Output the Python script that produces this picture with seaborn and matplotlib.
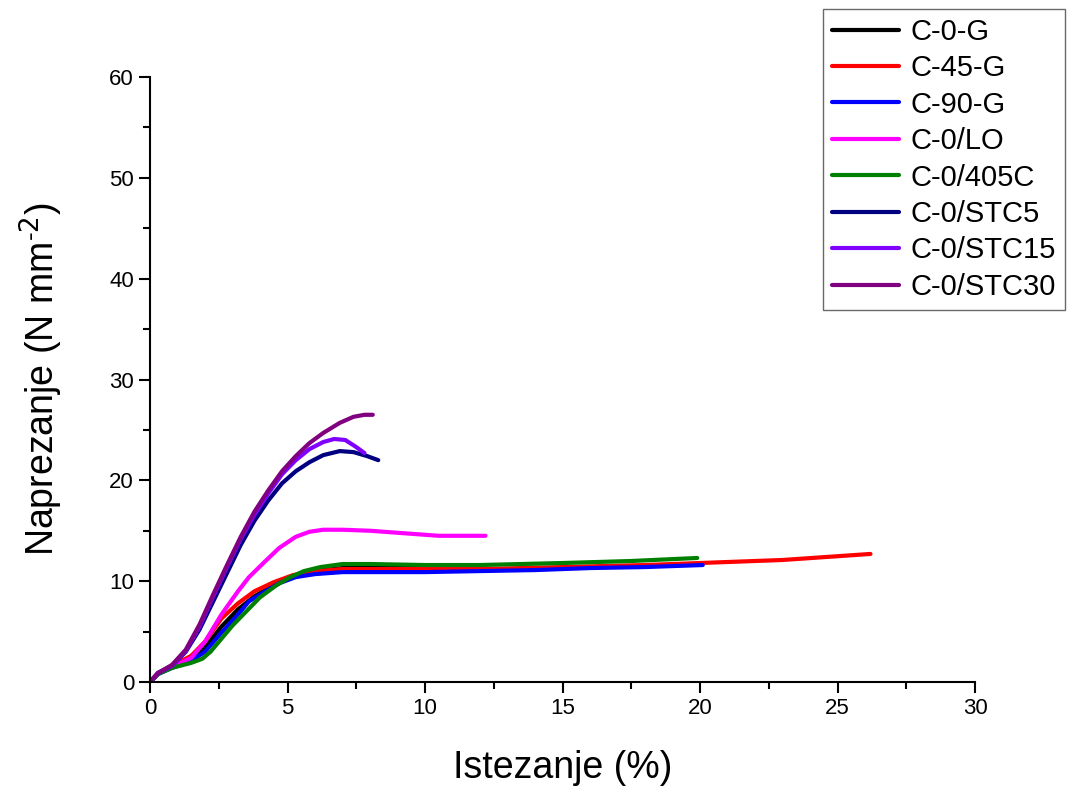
import matplotlib
matplotlib.use("Agg")
import matplotlib.pyplot as plt
from matplotlib.ticker import MultipleLocator
import seaborn as sns

# strain (%) / stress (N mm^-2) curves
c0g_x = [0, 0.3, 0.8, 1.5, 2.0, 2.6, 3.2, 3.8, 4.5, 5.2, 6.0, 7.0, 8.5, 10.0, 12.1]
c0g_y = [0, 0.9, 1.5, 2.3, 3.4, 5.5, 7.2, 8.5, 9.6, 10.4, 11.0, 11.3, 11.4, 11.4, 11.4]

c45g_x = [0, 0.3, 0.8, 1.5, 2.0, 2.6, 3.2, 3.8, 4.5, 5.2, 6.0, 7.0, 8.5, 10, 12, 15, 18, 20, 23, 26.2]
c45g_y = [0, 0.9, 1.6, 2.6, 4.0, 6.3, 7.8, 9.0, 9.9, 10.6, 11.0, 11.2, 11.2, 11.2, 11.2, 11.4, 11.6, 11.8, 12.1, 12.7]

c90g_x = [0, 0.3, 0.8, 1.5, 2.0, 2.6, 3.2, 3.6, 4.2, 4.7, 5.3, 6.0, 7.0, 8.5, 10, 12, 14, 16, 18, 20.1]
c90g_y = [0, 0.8, 1.4, 2.1, 3.0, 4.9, 6.7, 8.0, 9.0, 9.8, 10.4, 10.7, 10.9, 10.9, 10.9, 11.0, 11.1, 11.3, 11.4, 11.6]

c0lo_x = [0, 0.3, 0.8, 1.5, 2.0, 2.6, 3.2, 3.6, 4.2, 4.7, 5.3, 5.8, 6.3, 7.0, 8.0, 9.0, 10.5, 12.2]
c0lo_y = [0, 0.9, 1.5, 2.4, 4.0, 6.7, 9.0, 10.4, 12.0, 13.3, 14.4, 14.9, 15.1, 15.1, 15.0, 14.8, 14.5, 14.5]

c405_x = [0, 0.3, 0.8, 1.5, 1.9, 2.2, 2.6, 3.0, 3.5, 4.0, 4.6, 5.1, 5.6, 6.2, 7.0, 8.0, 10, 12, 15, 17.5, 19.9]
c405_y = [0, 0.8, 1.4, 1.9, 2.3, 3.0, 4.3, 5.6, 7.0, 8.4, 9.6, 10.4, 11.0, 11.4, 11.7, 11.7, 11.6, 11.6, 11.8, 12.0, 12.3]

stc5_x = [0, 0.3, 0.8, 1.3, 1.8, 2.3, 2.8, 3.3, 3.8, 4.3, 4.8, 5.3, 5.8, 6.3, 6.9, 7.4, 7.9, 8.3]
stc5_y = [0, 0.9, 1.6, 3.0, 5.2, 8.0, 10.8, 13.6, 16.0, 18.0, 19.7, 20.9, 21.8, 22.5, 22.9, 22.8, 22.4, 22.0]

stc15_x = [0, 0.3, 0.8, 1.3, 1.8, 2.3, 2.8, 3.3, 3.8, 4.3, 4.8, 5.3, 5.8, 6.3, 6.7, 7.1, 7.5, 7.8]
stc15_y = [0, 0.9, 1.6, 3.1, 5.5, 8.5, 11.4, 14.2, 16.6, 18.7, 20.6, 22.0, 23.1, 23.8, 24.1, 24.0, 23.3, 22.7]

stc30_x = [0, 0.3, 0.8, 1.3, 1.8, 2.3, 2.8, 3.3, 3.8, 4.3, 4.8, 5.3, 5.8, 6.3, 6.9, 7.4, 7.8, 8.1]
stc30_y = [0, 0.9, 1.7, 3.2, 5.7, 8.7, 11.6, 14.4, 16.9, 19.0, 20.9, 22.4, 23.7, 24.7, 25.7, 26.3, 26.5, 26.5]

labels = ["C-0-G", "C-45-G", "C-90-G", "C-0/LO", "C-0/405C", "C-0/STC5", "C-0/STC15", "C-0/STC30"]
colors = ["#000000", "#ff0000", "#0000ff", "#ff00ff", "#008000", "#000080", "#8000ff", "#800080"]
series = [(c0g_x, c0g_y), (c45g_x, c45g_y), (c90g_x, c90g_y), (c0lo_x, c0lo_y),
          (c405_x, c405_y), (stc5_x, stc5_y), (stc15_x, stc15_y), (stc30_x, stc30_y)]

sns.set_style("ticks")
plt.rcParams["font.family"] = ["Liberation Sans", "DejaVu Sans"]
plt.rcParams["axes.unicode_minus"] = False
for k in ["text.color", "axes.labelcolor", "xtick.color", "ytick.color"]:
    plt.rcParams[k] = "black"

fig = plt.figure(figsize=(10.69, 7.87), dpi=100)
ax = fig.add_axes([150 / 1069, 1 - 682 / 787, 825 / 1069, 605 / 787])

for (x, y), lab, col in zip(series, labels, colors):
    sns.lineplot(x=x, y=y, ax=ax, color=col, linewidth=3, label=lab, sort=False, estimator=None)

ax.set_xlim(0, 30)
ax.set_ylim(0, 60)
ax.xaxis.set_major_locator(MultipleLocator(5))
ax.xaxis.set_minor_locator(MultipleLocator(2.5))
ax.yaxis.set_major_locator(MultipleLocator(10))
ax.yaxis.set_minor_locator(MultipleLocator(5))
ax.tick_params(which="major", direction="out", length=8, width=1.5, labelsize=16, color="black")
ax.tick_params(which="minor", direction="out", length=5, width=1.5, color="black")
sns.despine(ax=ax)
for s in ["left", "bottom"]:
    ax.spines[s].set_linewidth(1.5)
    ax.spines[s].set_color("black")

ax.set_xlabel("Istezanje (%)", fontsize=27, labelpad=22)
ax.set_ylabel("Naprezanje (N mm$^{\\mathregular{\u2010}2}$)", fontsize=27, labelpad=32)

ax.get_legend().remove()
handles, labs = ax.get_legend_handles_labels()
leg = fig.legend(handles, labs, loc="upper right", bbox_to_anchor=(1065 / 1069, 1 - 9 / 787),
                 fontsize=21, frameon=True, fancybox=False, handlelength=2.3,
                 labelspacing=0.29, borderpad=0.3, handletextpad=0.4, borderaxespad=0)
leg.get_frame().set_edgecolor("#444444")
leg.get_frame().set_linewidth(1.0)

fig.savefig("out.png", dpi=100)
